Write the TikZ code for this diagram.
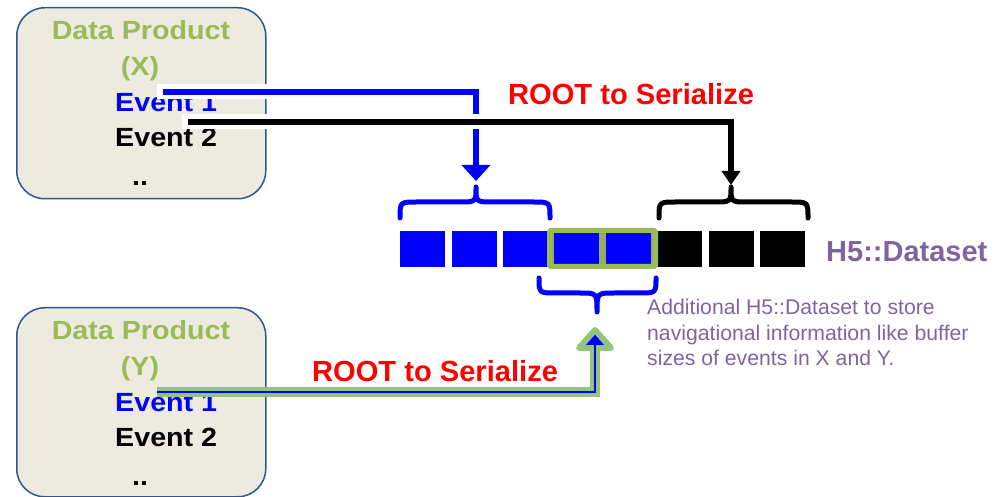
\documentclass[tikz,border=0pt]{standalone}
\usepackage{fontspec}
\setmainfont{Liberation Sans}
\newfontfamily\boxfont[FakeStretch=1.09]{Liberation Sans}
\usetikzlibrary{arrows.meta}
\definecolor{boxfill}{RGB}{237,235,224}
\definecolor{boxline}{RGB}{47,85,140}
\definecolor{dpgreen}{RGB}{155,187,89}
\definecolor{arrgreen}{RGB}{146,196,125}
\definecolor{h5purple}{RGB}{128,100,162}
\begin{document}
\begin{tikzpicture}[x=1pt,y=-1pt,
  dpbox/.style={draw=boxline, fill=boxfill, line width=1.5pt, rounded corners=28pt,
    minimum width=249pt, inner sep=0pt, anchor=north west},
  boxtxt/.style={font=\boxfont\fontsize{26.3}{28}\selectfont\bfseries, inner sep=0pt, anchor=base},
  bigtxt/.style={font=\fontsize{29.1}{30}\selectfont\bfseries, inner sep=0pt, anchor=base west},
  smalltxt/.style={font=\fontsize{21.2}{25}\selectfont, text=h5purple, inner sep=0pt, anchor=base west},
  sq/.style={minimum width=45pt, minimum height=36pt, inner sep=0pt, anchor=north west},
  brc/.style={line width=5pt, line cap=round, line join=round},
  casing/.style={white, line width=15pt},
  conn/.style={line width=6.5pt, line join=miter},
]
\useasboundingbox (0,0) rectangle (994,497);

% boxes
\node[dpbox, minimum height=191pt] (boxX) at (16,7) {};
\node[dpbox, minimum height=189pt] (boxY) at (16,307) {};

% box X texts
\node[boxtxt, text=dpgreen] (dpX) at (141,40) {Data Product};
\node[boxtxt, text=dpgreen] (nX) at (140,76) {(X)};
\node[boxtxt, text=blue, anchor=base west] (e1X) at (115,112) {Event 1};
\node[boxtxt, text=black, anchor=base west] (e2X) at (115,147) {Event 2};
\node[boxtxt, text=black] (dotsX) at (140,186) {..};

% box Y texts
\node[boxtxt, text=dpgreen] (dpY) at (141,339) {Data Product};
\node[boxtxt, text=dpgreen] (nY) at (140,375) {(Y)};
\node[boxtxt, text=blue, anchor=base west] (e1Y) at (115,411) {Event 1};
\node[boxtxt, text=black, anchor=base west] (e2Y) at (115,446) {Event 2};
\node[boxtxt, text=black] (dotsY) at (140,485) {..};

% dataset squares
\fill[dpgreen!75!gray] (549.5,230.5) rectangle (655.5,266.5);
\foreach \i in {0,...,4}
  \node[sq, fill=blue] (sq\i) at ({400+51.4*\i},231) {};
\foreach \i in {5,6,7}
  \node[sq, fill=black] (sq\i) at ({400+51.4*\i},231) {};
\draw[dpgreen, line width=5pt, rounded corners=1.5pt] (549.5,230.5) rectangle (655.5,266.5);

% braces
\coordinate (tipA) at (476,187);
\coordinate (tipB) at (731,187);
\coordinate (tipC) at (597,312);
\draw[brc, blue] (400,218) .. controls (400,202) .. (417,202) -- (459,202)
  .. controls (476,202) .. (tipA) .. controls (476,202) .. (493,202) -- (533,202)
  .. controls (550,202) .. (550,218);
\draw[brc, black] (659,218) .. controls (659,202) .. (676,202) -- (714,202)
  .. controls (731,202) .. (tipB) .. controls (731,202) .. (748,202) -- (791,202)
  .. controls (808,202) .. (808,218);
\draw[brc, blue] (539,278) .. controls (539,293) .. (556,293) -- (580,293)
  .. controls (597,293) .. (tipC) .. controls (597,293) .. (614,293) -- (639,293)
  .. controls (656,293) .. (656,278);

% connector X Event 1 (blue)
\coordinate (sA) at (163,92);
\coordinate (cA) at (476,92);
\coordinate (eA) at (476,181);
\draw[casing] (157,92) -- (cA) -- (476,170);
\draw[conn, blue, -{Triangle[width=28pt,length=16pt]}] (sA) -- (cA) -- (eA);

% connector X Event 2 (black)
\coordinate (sB) at (188,122);
\coordinate (cB) at (731,122);
\coordinate (eB) at (731,185);
\draw[casing] (182,122) -- (cB) -- (731,170);
\draw[conn, black, -{Triangle[width=18pt,length=14pt]}] (sB) -- (cB) -- (eB);

% connector Y Event 1 (green/blue)
\coordinate (sC) at (157,392);
\coordinate (cC) at (595,392);
\coordinate (eC) at (595,348);
\coordinate (hC) at (595,330);
\draw[arrgreen, line width=10pt, line join=miter] (sC) -- (cC) -- (eC);
\draw[arrgreen, line width=6pt, line join=round, fill=blue] (579,348) -- (611,348) -- (hC) -- cycle;
\draw[blue, line width=1.5pt] (sC) -- (cC) -- (595,344);

% labels
\node[bigtxt, text=red] (rootA) at (508,105) {ROOT to Serialize};
\node[bigtxt, text=red] (rootB) at (312,381) {ROOT to Serialize};
\node[bigtxt, text=h5purple, font=\fontsize{29}{30}\selectfont\bfseries] (h5) at (826,262) {H5::Dataset};
\node[smalltxt] (add1) at (647,315) {Additional H5::Dataset to store};
\node[smalltxt] (add2) at (647,340) {navigational information like buffer};
\node[smalltxt] (add3) at (647,365) {sizes of events in X and Y.};
\end{tikzpicture}
\end{document}
